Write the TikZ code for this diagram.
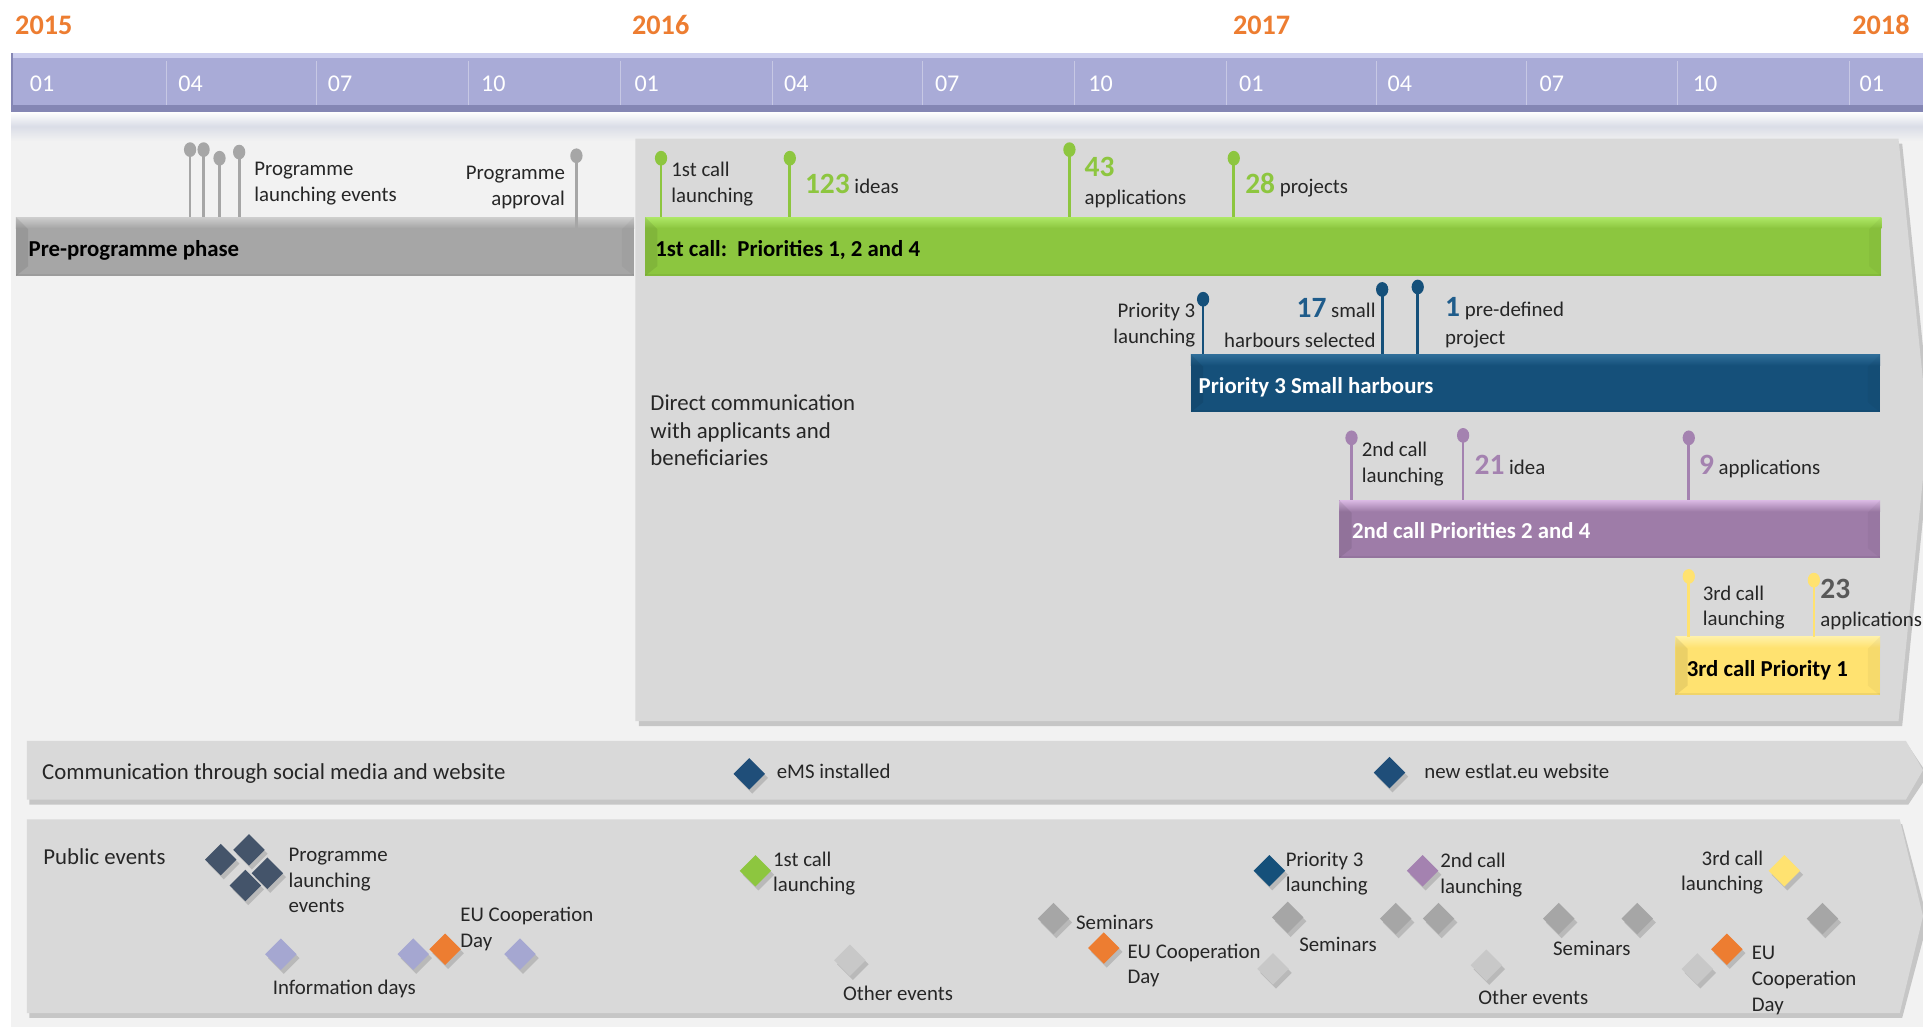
\documentclass[tikz,border=0pt]{standalone}
\usepackage{fontspec}
\setmainfont{Carlito}
\usetikzlibrary{shapes.geometric,shadows}
\definecolor{yearor}{HTML}{ED7D31}
\definecolor{band}{HTML}{A9ABD7}
\definecolor{bandtop}{HTML}{CDCFEE}
\definecolor{banddark}{HTML}{8486B4}
\definecolor{bgl}{HTML}{F2F2F2}
\definecolor{panel}{HTML}{D9D9D9}
\definecolor{pregray}{HTML}{A6A6A6}
\definecolor{pinbar}{HTML}{A6A6A6}
\definecolor{greenb}{HTML}{8CC63F}
\definecolor{greenhi}{HTML}{AEE866}
\definecolor{greenpin}{HTML}{8DC63F}
\definecolor{p3blue}{HTML}{15507A}
\definecolor{p3hi}{HTML}{2F6E99}
\definecolor{purp}{HTML}{9E7CA8}
\definecolor{purphi}{HTML}{D9B8E2}
\definecolor{purpin}{HTML}{A482B0}
\definecolor{yel}{HTML}{FFE270}
\definecolor{yelhi}{HTML}{FFF1A8}
\definecolor{slate}{HTML}{44546A}
\definecolor{emsblue}{HTML}{1F4E79}
\definecolor{infop}{HTML}{A5A7D1}
\definecolor{semgray}{HTML}{A6A6A6}
\definecolor{othgray}{HTML}{C8C8C8}
\definecolor{txt}{HTML}{262626}
\definecolor{num23}{HTML}{595959}
\definecolor{blnum}{HTML}{1F5C8B}
\newcommand\fsm{\fontsize{8.5}{10.5}\selectfont}
\newcommand\fmd{\fontsize{9.3}{11.25}\selectfont}
\newcommand\fbar{\fontsize{9.3}{11}\selectfont\bfseries}
\newcommand\fnum{\fontsize{12}{14}\selectfont\bfseries}
\newcommand\fyear{\fontsize{11.5}{13}\selectfont\bfseries}
\newcommand\fmon{\fontsize{9.8}{12}\selectfont}
\newcommand\tlbar[6]{%
  \fill[#5] (#1,#2) rectangle (#3,#4);
  \shade[top color=#6, bottom color=#5] (#1,#2) rectangle (#3,#2+9);
  \fill[black,opacity=0.08] (#1,#2) -- (#1+10,#2+10) -- (#1+10,#4-8) -- (#1,#4) -- cycle;
  \fill[black,opacity=0.035] (#3,#2) -- (#3-10,#2+10) -- (#3-10,#4-8) -- (#3,#4) -- cycle;
  \fill[black,opacity=0.06] (#1,#4-2) rectangle (#3,#4);
}
\newcommand\tlpin[4]{%
  \draw[#4, line width=1.1pt] (#1,#2) -- (#1,#3);
  \fill[#4] (#1,#2) ellipse [x radius=5, y radius=6];
}
\begin{document}
\begin{tikzpicture}[x=0.5pt,y=-0.5pt,
  lbl/.style={inner sep=0pt, text=txt, font=\fsm, align=left, yshift=-0.8pt},
  mlbl/.style={inner sep=0pt, text=txt, font=\fmd, align=left, yshift=-0.8pt},
  barlbl/.style={inner sep=0pt, font=\fbar, anchor=base west, yshift=-0.9pt},
  yearlbl/.style={inner sep=0pt, font=\fyear, text=yearor, anchor=base west, yshift=-1pt},
  monlbl/.style={inner sep=0pt, font=\fmon, text=white, anchor=base west, yshift=-0.6pt},
  dmd/.style={diamond, inner sep=0pt, minimum width=13pt, minimum height=13pt,
    drop shadow={shadow xshift=1.2pt,shadow yshift=-1.6pt,opacity=0.35}},
]
\useasboundingbox (0,0) rectangle (1568,837);
\fill[white] (0,0) rectangle (1568,837);
% light background
\fill[bgl] (9,96) rectangle (1568,837);
\shade[top color=white, bottom color=bgl, middle color={rgb,255:red,218;green,221;blue,231}] (9,91) rectangle (1568,115);
% timeline band
\fill[band] (9,43) rectangle (1568,91);
\fill[bandtop] (9,43) rectangle (1568,47);
\fill[banddark] (9,86) rectangle (1568,91);
\fill[banddark] (9,43) rectangle (11,91);
\foreach \sx in {136,258,382,506,630,752,876,1000,1122,1245,1368,1508}
  \draw[white, opacity=0.35, line width=0.4pt] (\sx,50) -- (\sx,86);
\foreach \mx/\mt [count=\i] in {24/01,145/04,267/07,392/10,517/01,639/04,762/07,887/10,1010/01,1131/04,1255/07,1380/10,1516/01}
  \node[monlbl] (m\i) at (\mx,73) {\mt};
\node[yearlbl] (y15) at (12,26) {2015};
\node[yearlbl] (y16) at (515,26) {2016};
\node[yearlbl] (y17) at (1005,26) {2017};
\node[yearlbl] (y18) at (1510,26) {2018};
% main panel
\fill[black, opacity=0.18] (521,117) -- (1551,117) -- (1575,352) -- (1551,592) -- (521,592) -- cycle;
\fill[panel] (518,113) -- (1548,113) -- (1572,350) -- (1548,588) -- (518,588) -- cycle;
% social band
\fill[black, opacity=0.18] (24,608) -- (1556,608) -- (1572,632) -- (1556,656) -- (24,656) -- cycle;
\fill[panel] (22,604) -- (1554,604) -- (1568,628) -- (1554,652) -- (22,652) -- cycle;
% public events band
\fill[black, opacity=0.18] (24,672) -- (1551,672) -- (1572,751) -- (1551,830) -- (24,830) -- cycle;
\fill[panel] (22,668) -- (1549,668) -- (1568,747) -- (1549,826) -- (22,826) -- cycle;

% bars
\tlbar{13}{177}{517}{225}{pregray}{pregray!55!white}
\node[barlbl, text=black] (bpre) at (23,207) {Pre-programme phase};
\tlbar{526}{177}{1534}{225}{greenb}{greenhi}
\node[barlbl, text=black] (bg) at (534,207) {1st call:\ \ Priorities 1, 2 and 4};
\tlbar{971}{289}{1533}{336}{p3blue}{p3hi}
\node[barlbl, text=white] (bb) at (977,319) {Priority 3 Small harbours};
\tlbar{1092}{408}{1533}{455}{purp}{purphi}
\node[barlbl, text=white] (bp) at (1102,437) {2nd call Priorities 2 and 4};
\tlbar{1366}{519}{1533}{567}{yel}{yelhi}
\node[barlbl, text=black] (by) at (1375,550) {3rd call Priority 1};

% pins
\tlpin{155}{122}{177}{pinbar}
\tlpin{166}{122}{177}{pinbar}
\tlpin{179}{129}{177}{pinbar}
\tlpin{195}{124}{177}{pinbar}
\tlpin{470}{127}{188}{pinbar}
\tlpin{539}{129}{177}{greenpin}
\tlpin{644}{129}{177}{greenpin}
\tlpin{872}{122}{177}{greenpin}
\tlpin{1006}{129}{177}{greenpin}
\tlpin{981}{244}{289}{p3blue}
\tlpin{1127}{236}{289}{p3blue}
\tlpin{1156}{234}{289}{p3blue}
\tlpin{1102}{357}{408}{purpin}
\tlpin{1193}{355}{408}{purpin}
\tlpin{1377}{357}{408}{purpin}
\tlpin{1377}{470}{519}{yel}
\tlpin{1479}{473}{519}{yel}

% pin labels
\node[lbl, anchor=north west] (tple) at (207,130.5) {Programme\\launching events};
\node[lbl, anchor=north east, align=right] (tpa) at (461,133.5) {Programme\\approval};
\node[lbl, anchor=north west] (t1cl) at (547,130.5) {1st call\\launching};
\node[lbl, anchor=base west] (t123) at (656,156.5) {{\fnum\color{greenpin}123} ideas};
\node[lbl, anchor=base west, font=\fnum, text=greenpin] (t43) at (884,142) {43};
\node[lbl, anchor=base west] (t43b) at (884,165.5) {applications};
\node[lbl, anchor=base west] (t28) at (1015,156.5) {{\fnum\color{greenpin}28} projects};
\node[lbl, anchor=north east, align=right] (tp3l) at (975,245.5) {Priority 3\\launching};
\node[lbl, anchor=base east] (t17) at (1122,257.5) {{\fnum\color{blnum}17} small};
\node[lbl, anchor=base east] (t17b) at (1122,281.5) {harbours selected};
\node[lbl, anchor=base west] (t1p) at (1178,256.5) {{\fnum\color{blnum}1} pre-defined};
\node[lbl, anchor=base west] (t1pb) at (1178,279.5) {project};
\node[lbl, anchor=north west] (t2cl) at (1110,358.5) {2nd call\\launching};
\node[lbl, anchor=base west] (t21) at (1202,385.5) {{\fnum\color{purpin}21} idea};
\node[lbl, anchor=base west] (t9) at (1385,385.5) {{\fnum\color{purpin}9} applications};
\node[lbl, anchor=north west] (t3cl) at (1388,475.5) {3rd call\\launching};
\node[lbl, anchor=base west, font=\fnum, text=num23] (t23) at (1484,486) {23};
\node[lbl, anchor=base west] (t23b) at (1484,509.5) {applications};

\node[mlbl, anchor=north west] (tdc) at (530,320) {Direct communication\\with applicants and\\beneficiaries};

% social band
\node[mlbl, anchor=base west] (tsoc) at (34,634) {Communication through social media and website};
\node[dmd, fill=emsblue] (dems) at (611,631) {};
\node[lbl, anchor=base west] (tems) at (633,633.5) {eMS installed};
\node[dmd, fill=emsblue] (dweb) at (1133,630) {};
\node[lbl, anchor=base west] (tweb) at (1161,633.5) {new estlat.eu website};

% public events
\node[mlbl, anchor=base west] (tpub) at (35,703) {Public events};
\node[dmd, fill=slate] (ds1) at (180,701) {};
\node[dmd, fill=slate] (ds2) at (203,693) {};
\node[dmd, fill=slate] (ds3) at (200,722) {};
\node[dmd, fill=slate] (ds4) at (218,712) {};
\node[lbl, anchor=north west] (tple2) at (235,689.5) {Programme\\launching\\events};
\node[dmd, fill=infop] (di1) at (229,778) {};
\node[dmd, fill=infop] (di2) at (337,778) {};
\node[dmd, fill=yearor] (do1) at (363,774) {};
\node[dmd, fill=infop] (di3) at (424,778) {};
\node[lbl, anchor=north west] (teu1) at (375,737.5) {EU Cooperation\\Day};
\node[lbl, anchor=base west] (tinfo) at (222,809.5) {Information days};
\node[dmd, fill=greenpin] (dg) at (616,710) {};
\node[lbl, anchor=north west] (t1c2) at (630,692.5) {1st call\\launching};
\node[dmd, fill=othgray] (dx1) at (693,783) {};
\node[lbl, anchor=base west] (toth1) at (687,814.5) {Other events};
\node[dmd, fill=semgray] (dsm1) at (859,749) {};
\node[lbl, anchor=base west] (tsem1) at (877,756.5) {Seminars};
\node[dmd, fill=yearor] (do2) at (900,773) {};
\node[lbl, anchor=north west] (teu2) at (919,767.5) {EU Cooperation\\Day};
\node[dmd, fill=p3blue] (dp3) at (1035,710) {};
\node[lbl, anchor=north west] (tp32) at (1048,692.5) {Priority 3\\launching};
\node[dmd, fill=semgray] (dsm2) at (1050,748) {};
\node[lbl, anchor=base west] (tsem2) at (1059,774.5) {Seminars};
\node[dmd, fill=othgray] (dx2) at (1038,790) {};
\node[dmd, fill=purpin] (dpu) at (1160,710) {};
\node[lbl, anchor=north west] (t2c2) at (1174,693.5) {2nd call\\launching};
\node[dmd, fill=semgray] (dsm3) at (1138,749) {};
\node[dmd, fill=semgray] (dsm4) at (1173,749) {};
\node[dmd, fill=othgray] (dx3) at (1212,787) {};
\node[lbl, anchor=base west] (toth2) at (1205,817.5) {Other events};
\node[dmd, fill=semgray] (dsm5) at (1271,749) {};
\node[dmd, fill=semgray] (dsm6) at (1335,749) {};
\node[lbl, anchor=base west] (tsem3) at (1266,777.5) {Seminars};
\node[lbl, anchor=north east, align=right] (t3c2) at (1438,691.5) {3rd call\\launching};
\node[dmd, fill=yel] (dy) at (1455,710) {};
\node[dmd, fill=semgray] (dsm7) at (1486,749) {};
\node[dmd, fill=othgray] (dx4) at (1384,790) {};
\node[dmd, fill=yearor] (do3) at (1408,774) {};
\node[lbl, anchor=north west] (teu3) at (1428,769.5) {EU\\Cooperation\\Day};
\end{tikzpicture}
\end{document}
